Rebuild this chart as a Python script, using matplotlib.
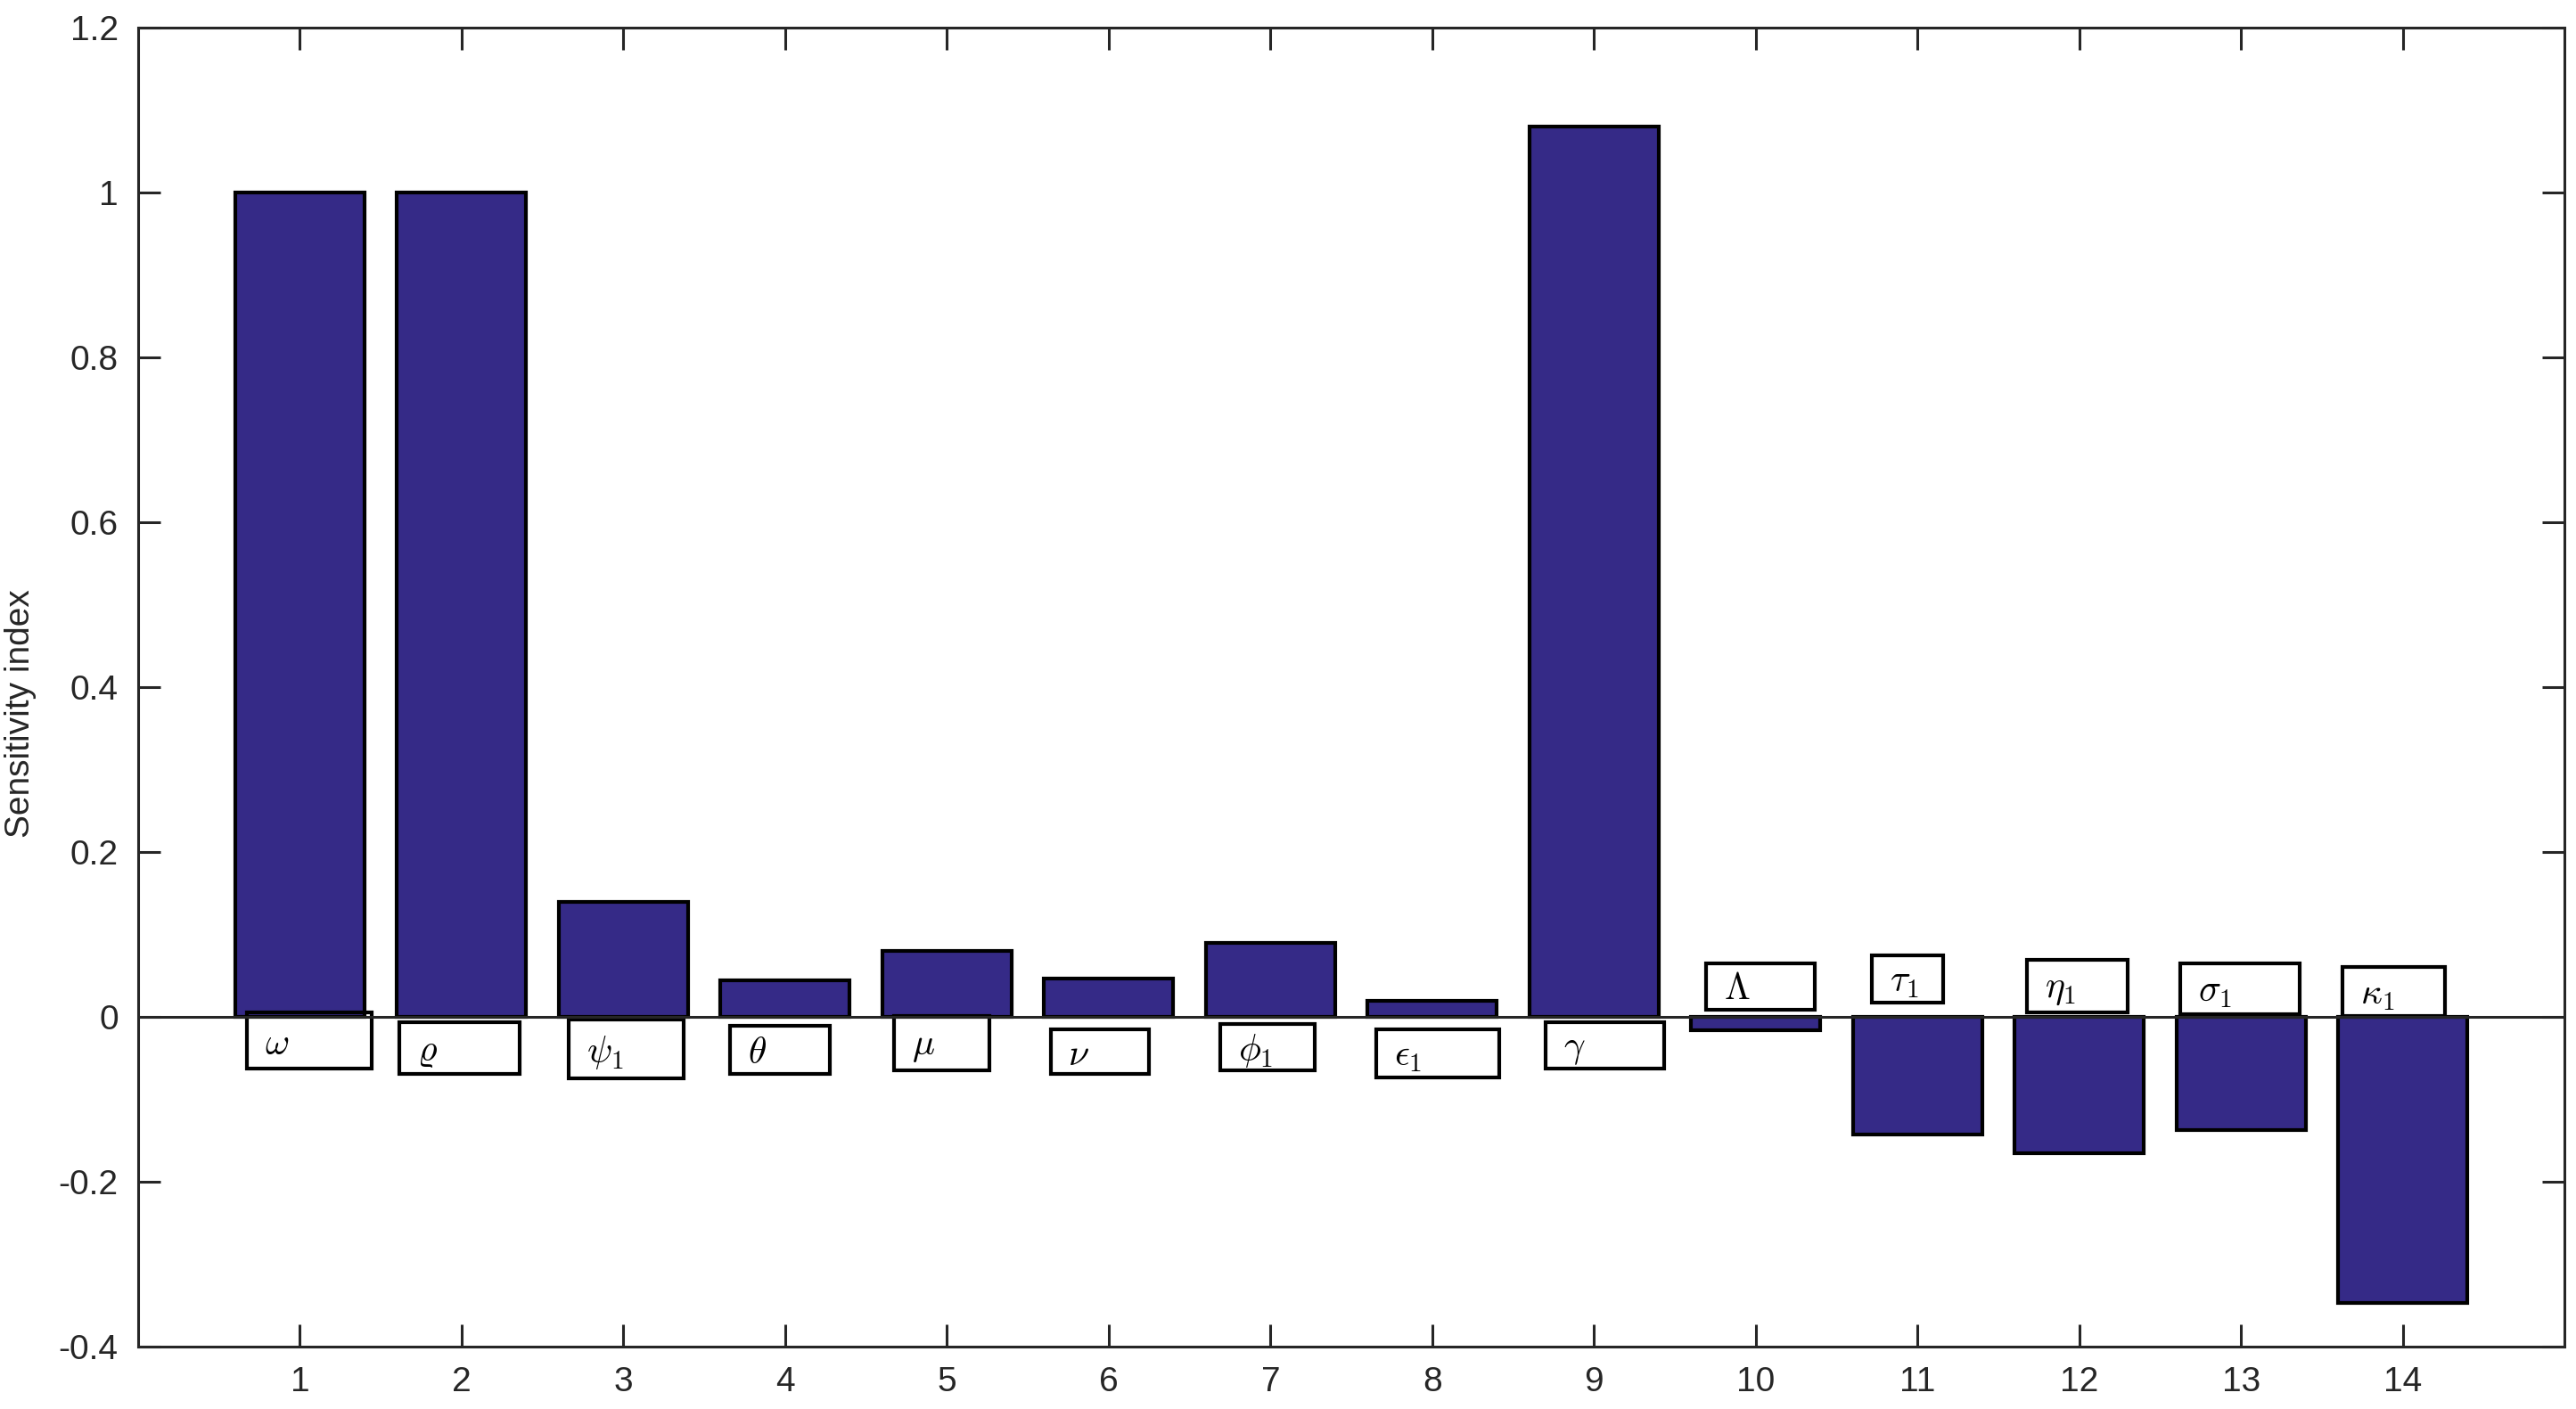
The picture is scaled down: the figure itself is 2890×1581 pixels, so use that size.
import numpy as np
import matplotlib
matplotlib.use('Agg')
import matplotlib.pyplot as plt
from matplotlib.patches import Rectangle
from matplotlib.ticker import FuncFormatter

# sensitivity indices
params = list(range(1, 15))
values = [1.0, 1.0, 0.139, 0.044, 0.08, 0.046, 0.09, 0.02, 1.08,
          -0.016, -0.143, -0.165, -0.137, -0.347]
labels = [r'$\omega$', r'$\varrho$', r'$\psi_1$', r'$\theta$', r'$\mu$',
          r'$\nu$', r'$\phi_1$', r'$\epsilon_1$', r'$\gamma$', r'$\Lambda$',
          r'$\tau_1$', r'$\eta_1$', r'$\sigma_1$', r'$\kappa_1$']

# label box extents (data units): left, right, top, bottom
box_x0 = [0.671, 1.616, 2.663, 3.659, 4.675, 5.640, 6.687, 7.652, 8.699,
          9.695, 10.72, 11.677, 12.622, 13.628]
box_x1 = [1.443, 2.358, 3.374, 4.278, 5.264, 6.250, 7.276, 8.415, 9.431,
          10.366, 11.159, 12.297, 13.364, 14.258]
box_top = [0.005, -0.007, -0.003, -0.011, 0.001, -0.015, -0.009, -0.015,
           -0.007, 0.065, 0.075, 0.069, 0.065, 0.061]
box_bot = [-0.063, -0.069, -0.075, -0.069, -0.065, -0.069, -0.065, -0.073,
           -0.063, 0.009, 0.017, 0.005, 0.003, 0.001]

plt.rcParams['font.family'] = ['Liberation Sans', 'DejaVu Sans']
plt.rcParams['mathtext.fontset'] = 'cm'

axis_color = '#262626'
bar_color = '#352a87'

fig = plt.figure(figsize=(14.45, 7.905), dpi=200)
ax = fig.add_axes([0.0536, 0.0443, 0.942, 0.936])

ax.bar(params, values, width=0.8, color=bar_color, edgecolor='black',
       linewidth=1.5, zorder=2)
ax.axhline(0, color=axis_color, linewidth=1.1, zorder=4)

for lab, x0, x1, yt, yb in zip(labels, box_x0, box_x1, box_top, box_bot):
    ax.add_patch(Rectangle((x0, yb), x1 - x0, yt - yb, fill=False,
                           edgecolor='black', linewidth=1.5, zorder=3))
    ax.text(x0 + 0.11, (yt + yb) / 2 - 0.004, lab, fontsize=15,
            ha='left', va='center', zorder=5)

ax.set_xlim(0, 15)
ax.set_ylim(-0.4, 1.2)
ax.set_xticks(params)
ax.set_yticks(np.arange(-0.4, 1.21, 0.2))
ax.yaxis.set_major_formatter(FuncFormatter(lambda v, p: f'{v:g}' if abs(v) > 1e-9 else '0'))

ax.tick_params(direction='in', length=9, width=1.1, colors=axis_color,
               labelsize=14, top=True, right=True, pad=8)
for s in ax.spines.values():
    s.set_color(axis_color)
    s.set_linewidth(1.1)

ax.set_ylabel('Sensitivity index', fontsize=14, color=axis_color)
ax.yaxis.set_label_coords(-0.042, 0.48)

fig.savefig('out.png', dpi=200)
